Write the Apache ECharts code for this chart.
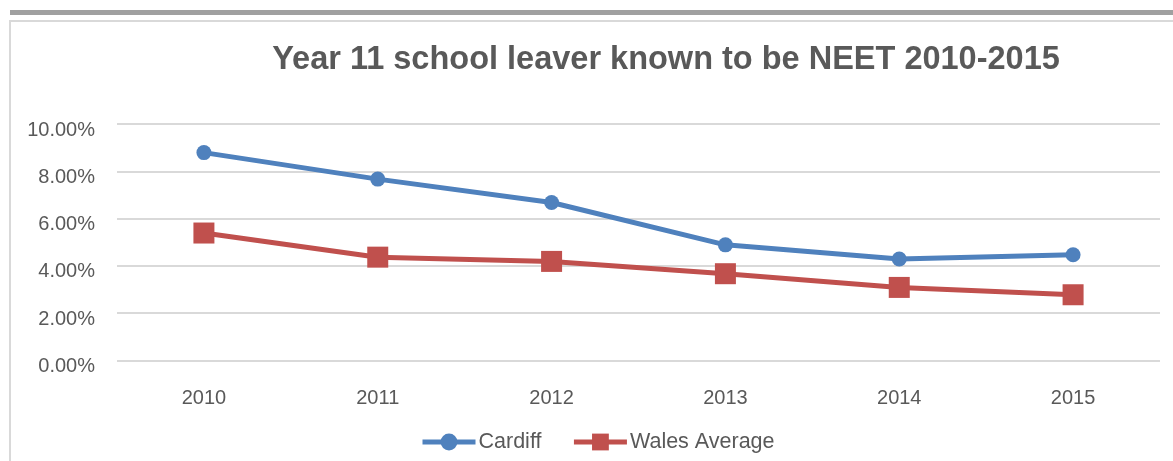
<!DOCTYPE html>
<html><head><meta charset="utf-8">
<script src="https://cdn.jsdelivr.net/npm/echarts@6/dist/echarts.min.js"></script>
<style>html,body{margin:0;padding:0;background:#fff}#c{width:1173px;height:461px}</style>
</head><body><div id="c"></div>
<script>
const titleText = 'Year 11 school leaver known to be NEET 2010-2015';
const years = ['2010','2011','2012','2013','2014','2015'];
const cardiff = [0.0879, 0.0767, 0.0668, 0.0489, 0.0429, 0.0447];
const wales = [0.0539, 0.0437, 0.0419, 0.0367, 0.0309, 0.0278];
const seriesNames = ['Cardiff', 'Wales Average'];
const colors = ['#4F81BD', '#C0504D'];

const chart = echarts.init(document.getElementById('c'), null, {renderer:'canvas'});
const font = '"Liberation Sans", Arial, sans-serif';
chart.setOption({
  animation: false,
  backgroundColor: '#fff',
  title: {
    text: titleText, left: 661, top: 39, textAlign: 'center',
    textStyle: {fontFamily: font, fontWeight: 'bold', fontSize: 32.5, color: '#595959'}
  },
  graphic: [
    {type:'rect', shape:{x:10, y:10, width:1163, height:5}, style:{fill:'#a0a0a0'}, silent:true},
    {type:'rect', shape:{x:9, y:20, width:1164, height:2}, style:{fill:'#d9d9d9'}, silent:true},
    {type:'rect', shape:{x:9, y:20, width:2, height:441}, style:{fill:'#d9d9d9'}, silent:true}
  ],
  legend: {
    data: seriesNames.map((n, i) => ({name: n, lineStyle: {width: 5, color: colors[i]}})),
    left: 415, top: 426, itemGap: 30, itemWidth: 53, itemHeight: 21,
    textStyle: {fontFamily: font, fontSize: 21.5, color: '#595959', padding: [0, 0, 0, -2]}
  },
  grid: {left: 117, right: 13, top: 124, bottom: 100.5},
  xAxis: {
    type: 'category', data: years, boundaryGap: true,
    axisLine: {show: false}, axisTick: {show: false},
    axisLabel: {fontFamily: font, fontSize: 20, color: '#595959', margin: 28}
  },
  yAxis: {
    type: 'value', min: 0, max: 0.1, interval: 0.02,
    axisLine: {show: false}, axisTick: {show: false},
    splitLine: {lineStyle: {color: '#d9d9d9', width: 2}},
    axisLabel: {color: '#595959', margin: 22,
      formatter: v => '{a|' + (v*100).toFixed(2) + '%}',
      rich: {a: {fontFamily: font, fontSize: 20, color: '#595959', padding: [12, 0, 0, 0]}}}
  },
  series: [
    {name: seriesNames[0], type: 'line', data: cardiff, symbol: 'circle', symbolSize: 15,
     lineStyle: {color: colors[0], width: 5}, itemStyle: {color: colors[0]}},
    {name: seriesNames[1], type: 'line', data: wales, symbol: 'rect', symbolSize: 21,
     lineStyle: {color: colors[1], width: 5}, itemStyle: {color: colors[1]}}
  ]
});
</script></body></html>
